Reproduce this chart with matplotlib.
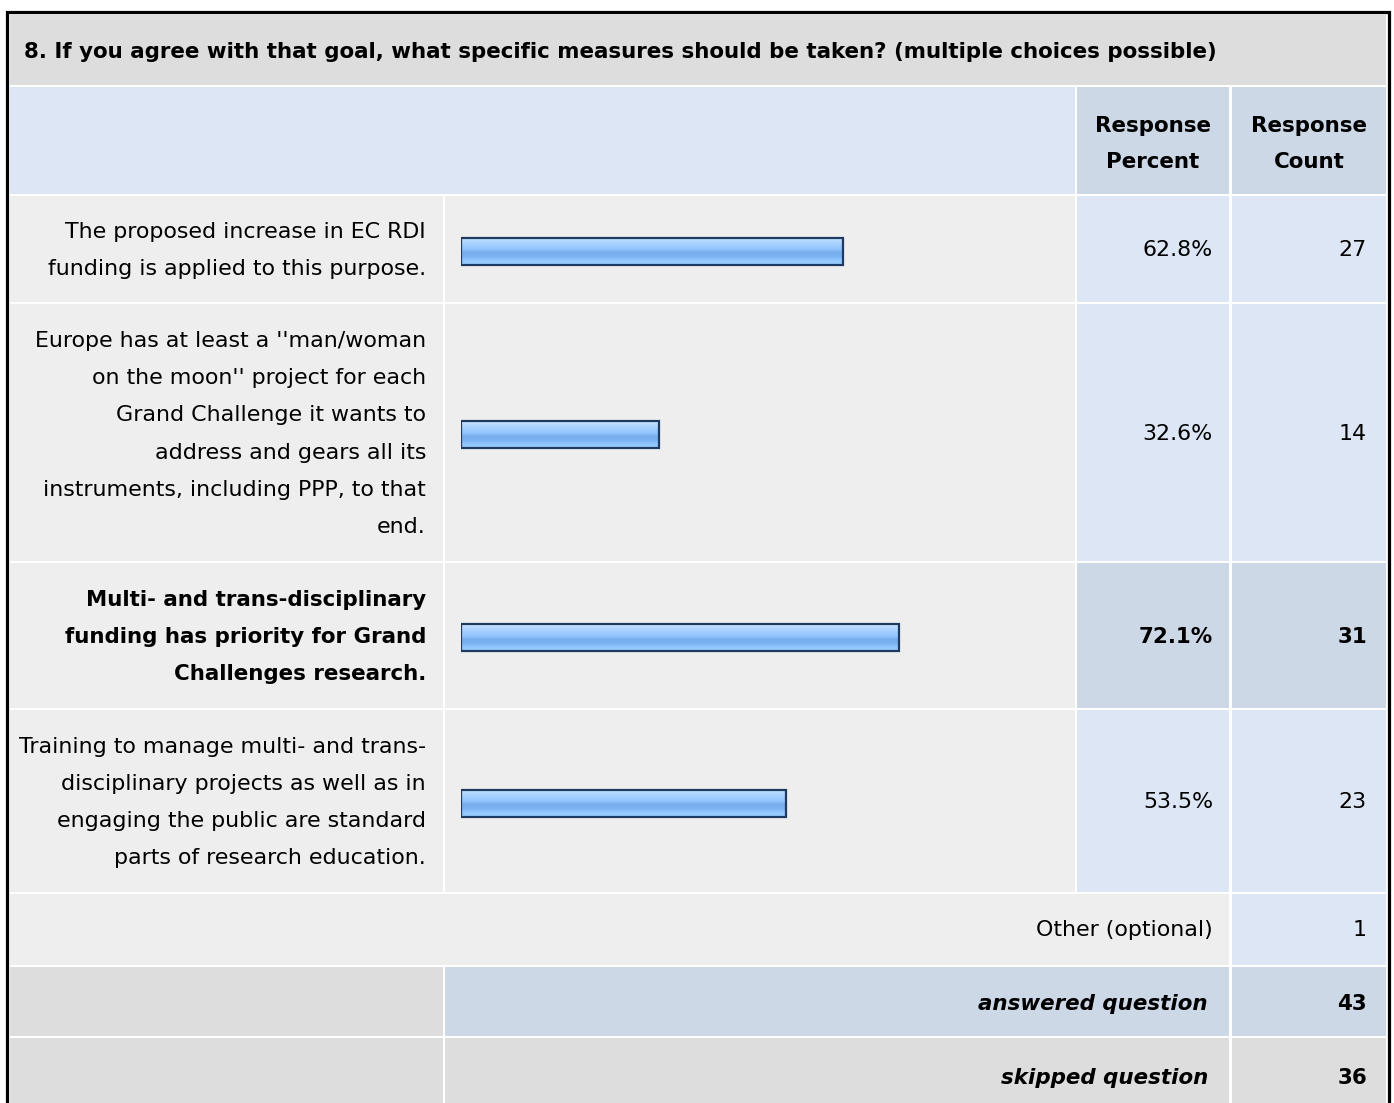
import matplotlib.pyplot as plt
import numpy as np
from matplotlib.patches import Rectangle
from matplotlib.colors import LinearSegmentedColormap

plt.rcParams['font.family'] = ['DejaVu Sans']

# data
title = "8. If you agree with that goal, what specific measures should be taken? (multiple choices possible)"
answers = [
    ["The proposed increase in EC RDI", "funding is applied to this purpose."],
    ["Europe has at least a ''man/woman", "on the moon'' project for each",
     "Grand Challenge it wants to", "address and gears all its",
     "instruments, including PPP, to that", "end."],
    ["Multi- and trans-disciplinary", "funding has priority for Grand",
     "Challenges research."],
    ["Training to manage multi- and trans-", "disciplinary projects as well as in",
     "engaging the public are standard", "parts of research education."],
]
percents = [62.8, 32.6, 72.1, 53.5]
counts = [27, 14, 31, 23]
highlight = [False, False, True, False]
other_count = 1
answered = 43
skipped = 36

# layout (pixels)
W, H = 1394, 1103
row_tops = [196, 304, 563, 710]
row_bots = [302, 561, 708, 892]
col_lab = (10, 443)
col_bar = (445, 1075)
col_pct = (1077, 1229)
col_cnt = (1232, 1386)
line_h = 37.3
fs_reg = 15.9
fs_bold = 15.4
dy = 1.5

GRAY = '#DDDDDD'
LIGHT = '#EEEEEE'
BLUE = '#DCE6F4'
BLUE2 = '#CCD8E6'

fig = plt.figure(figsize=(W / 100, H / 100), dpi=100)
ax = fig.add_axes([0, 0, 1, 1])
ax.set_xlim(0, W)
ax.set_ylim(H, 0)
ax.axis('off')


def cell(x0, x1, y0, y1, c):
    ax.add_patch(Rectangle((x0, y0), x1 - x0, y1 - y0, facecolor=c, edgecolor='none'))


def txt(x, y, s, fontweight='normal', **kw):
    size = fs_bold if fontweight == 'bold' else fs_reg
    ax.text(x, y + dy, s, fontsize=size, fontweight=fontweight, va='center', **kw)


# outer frame
ax.add_patch(Rectangle((6.5, 11.5), 1382, 1200, facecolor='white', edgecolor='black', lw=2.3))

# title
cell(10, 1386, 14, 85, GRAY)
txt(24, 51, title, fontweight='bold', ha='left')

# header
cell(10, 1075, 87, 194, BLUE)
cell(*col_pct, 87, 194, BLUE2)
cell(*col_cnt, 87, 194, BLUE2)
for (a, b), words in zip([col_pct, col_cnt], [("Response", "Percent"), ("Response", "Count")]):
    txt((a + b) / 2, 124, words[0], fontweight='bold', ha='center')
    txt((a + b) / 2, 161, words[1], fontweight='bold', ha='center')

# answer rows
for i, lines in enumerate(answers):
    y0, y1 = row_tops[i], row_bots[i]
    mid = (y0 + y1) / 2
    pc = BLUE2 if highlight[i] else BLUE
    w = 'bold' if highlight[i] else 'normal'
    cell(*col_lab, y0, y1, LIGHT)
    cell(*col_bar, y0, y1, LIGHT)
    cell(*col_pct, y0, y1, pc)
    cell(*col_cnt, y0, y1, pc)
    n = len(lines)
    for k, s in enumerate(lines):
        txt(426, mid + (k - (n - 1) / 2) * line_h, s, fontweight=w, ha='right')
    txt(1213, mid, f"{percents[i]:.1f}%", fontweight=w, ha='right')
    txt(1367, mid, str(counts[i]), fontweight=w, ha='right')

# other row
cell(10, 1229, 894, 965, LIGHT)
cell(*col_cnt, 894, 965, BLUE)
txt(1213, 929, "Other (optional)", ha='right')
txt(1367, 929, str(other_count), ha='right')

# answered / skipped
cell(*col_lab, 967, 1036, GRAY)
cell(445, 1229, 967, 1036, BLUE2)
cell(*col_cnt, 967, 1036, BLUE2)
txt(1208, 1003, "answered question", fontweight='bold', style='italic', ha='right')
txt(1367, 1003, str(answered), fontweight='bold', ha='right')
cell(*col_lab, 1038, 1110, GRAY)
cell(445, 1229, 1038, 1110, GRAY)
cell(*col_cnt, 1038, 1110, GRAY)
txt(1208, 1076, "skipped question", fontweight='bold', style='italic', ha='right')
txt(1367, 1076, str(skipped), fontweight='bold', ha='right')

# bars on their own 0-100 scale
bx = fig.add_axes([461 / W, 0, 608 / W, 1])
bx.set_xlim(0, 100)
bx.set_ylim(H, 0)
bx.axis('off')
bx.patch.set_alpha(0)
grad = LinearSegmentedColormap.from_list(
    'g', ['#CCE4FF', '#B4D8FF', '#A2CEFF', '#96C6FF', '#76AEEE', '#7AB2F2', '#90C6FF', '#9ACCFF'])
centers = [(a + b) / 2 + 2 for a, b in zip(row_tops, row_bots)]
bars = bx.barh(centers, percents, height=27, color='#98C8FF', edgecolor='#1F3A60', lw=1.6, zorder=2)
for b in bars:
    x, y = b.get_x(), b.get_y()
    im = bx.imshow(np.linspace(0, 1, 50).reshape(-1, 1), cmap=grad, aspect='auto',
                   extent=(x, x + b.get_width(), y + b.get_height(), y), zorder=1)
    im.set_clip_path(b)
    b.set_facecolor('none')
bx.set_xlim(0, 100)
bx.set_ylim(H, 0)

fig.savefig('out.png', dpi=100)
